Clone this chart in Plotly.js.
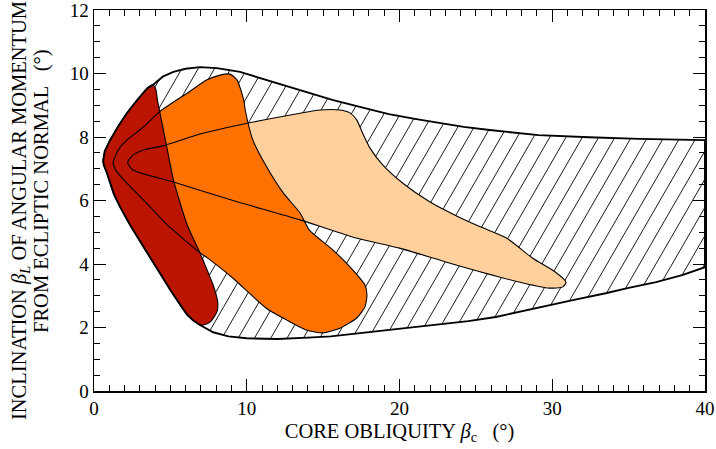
<!DOCTYPE html>
<html>
<head>
<meta charset="utf-8">
<script src="https://cdn.plot.ly/plotly-3.0.1.min.js"></script>
<style>html,body{margin:0;padding:0;background:#fff;}#chart{width:716px;height:449px;}</style>
</head>
<body>
<div id="chart"></div>
<script>
// Envelope (hatched) region
const envX = [3.86, 4.5, 5.2, 6.0, 6.94, 8.05, 9.56, 11.3, 13.5, 15.6, 17.4, 19.3, 21.0, 22.6, 24.2, 25.9, 27.5, 29.1, 32.4, 35.7, 40,
              40, 38.5, 36.8, 35.0, 33.5, 31.5, 30.0, 28.9, 27.5, 26.3, 24.5, 23.0, 20.4, 18.9, 17.4, 15.5, 14.0, 12.0, 10.0, 8.8, 7.8, 7.3, 6.94,
              6.5, 6.1, 5.1, 4.1, 3.2, 2.36, 1.7, 1.3, 0.85, 0.65, 0.6, 0.7, 1.05, 1.6, 2.15, 2.8, 3.5, 3.86];
const envY = [9.64, 9.9, 10.05, 10.15, 10.2, 10.17, 10.05, 9.8, 9.48, 9.17, 8.95, 8.72, 8.57, 8.44, 8.32, 8.22, 8.13, 8.06, 7.99, 7.94, 7.9,
              3.9, 3.65, 3.43, 3.25, 3.08, 2.88, 2.72, 2.6, 2.45, 2.33, 2.2, 2.12, 1.98, 1.88, 1.8, 1.72, 1.68, 1.64, 1.66, 1.72, 1.85, 1.98, 2.08,
              2.22, 2.4, 3.1, 3.87, 4.55, 5.23, 5.8, 6.2, 6.86, 7.1, 7.25, 7.55, 7.9, 8.35, 8.75, 9.15, 9.54, 9.64];

// Light orange region
const lightX = [2.2, 2.55, 3.3, 4.5, 7.0, 10.1, 13.5, 14.8, 16.1, 16.76, 17.2, 17.55, 18.07, 18.9, 20.2, 22.0, 24.0, 25.3,
                27.0, 28.7, 30.2, 30.9, 30.7, 29.8, 28.1, 23.7, 20.0, 17.15, 13.5, 9.1, 5.2, 2.55, 2.2];
const lightY = [7.2, 7.43, 7.6, 7.72, 8.1, 8.44, 8.75, 8.85, 8.85, 8.76, 8.54, 8.16, 7.65, 7.12, 6.55, 5.95, 5.45, 5.17,
                4.82, 4.19, 3.75, 3.43, 3.28, 3.24, 3.4, 3.97, 4.5, 4.82, 5.39, 6.0, 6.58, 6.96, 7.2];

// Orange region
const orangeX = [1.25, 1.6, 2.15, 3.2, 4.3, 6.1, 7.4, 8.25, 8.9, 9.36, 9.8, 9.9, 10.4, 11.3, 12.4, 13.5,
                 14.1, 15.65, 16.95, 17.74, 17.87, 17.74, 17.2, 16.1, 15.0, 13.9, 12.6, 11.3, 9.1, 7.4, 6.94, 4.8, 3.67, 2.15, 1.5, 1.25];
const orangeY = [7.18, 7.6, 7.9, 8.3, 8.8, 9.38, 9.8, 9.95, 9.98, 9.8, 9.17, 8.85, 7.9, 7.06, 6.23, 5.6,
                 5.07, 4.44, 3.81, 3.34, 3.02, 2.65, 2.3, 1.98, 1.83, 1.92, 2.24, 2.6, 3.55, 4.2, 4.35, 5.23, 5.8, 6.55, 6.9, 7.18];

// Dark red region
const redX = [3.86, 4.05, 4.15, 4.3, 4.5, 4.8, 5.2, 6.1, 6.94, 7.5, 7.8, 8.1, 8.05, 7.6, 7.15, 6.94,
              6.1, 4.1, 2.36, 1.3, 0.85, 0.6, 0.75, 1.05, 2.15, 3.5, 3.86];
const redY = [9.64, 9.5, 9.17, 8.8, 8.32, 7.6, 6.65, 5.23, 4.35, 3.7, 3.34, 2.8, 2.49, 2.17, 2.08, 2.08,
              2.4, 3.87, 5.23, 6.2, 6.86, 7.2, 7.6, 7.9, 8.75, 9.54, 9.64];

const xTitle = 'CORE OBLIQUITY <i>β</i><sub>c</sub>   (°)';
const yTitle1 = 'INCLINATION <i>β</i><sub><i>L</i></sub> OF ANGULAR MOMENTUM';
const yTitle2 = 'FROM ECLIPTIC NORMAL   (°)';

// Hatch lines clipped to the envelope polygon (computed in pixel space for a true 60° angle)
function hatch(xs, ys, spacingPx, angleDeg) {
  const sx = 611 / 40, sy = 381 / 12;
  const P = xs.map((x, i) => [x * sx, ys[i] * sy]);
  const a = angleDeg * Math.PI / 180;
  const d = [Math.cos(a), Math.sin(a)], n = [-Math.sin(a), Math.cos(a)];
  const cs = P.map(p => p[0] * n[0] + p[1] * n[1]);
  const cmin = Math.min(...cs), cmax = Math.max(...cs);
  const perp = spacingPx * Math.sin(a);
  const hx = [], hy = [];
  for (let c = Math.ceil(cmin / perp) * perp + 0.37; c <= cmax; c += perp) {
    const ts = [];
    for (let i = 0; i < P.length - 1; i++) {
      const cp = cs[i], cq = cs[i + 1];
      if ((cp - c) * (cq - c) < 0) {
        const t = (c - cp) / (cq - cp);
        const px = P[i][0] + t * (P[i + 1][0] - P[i][0]);
        const py = P[i][1] + t * (P[i + 1][1] - P[i][1]);
        ts.push(px * d[0] + py * d[1]);
      }
    }
    ts.sort((u, v) => u - v);
    for (let k = 0; k + 1 < ts.length; k += 2) {
      [ts[k], ts[k + 1]].forEach(s => {
        hx.push((c * n[0] + s * d[0]) / sx);
        hy.push((c * n[1] + s * d[1]) / sy);
      });
      hx.push(null); hy.push(null);
    }
  }
  return [hx, hy];
}
const [hatchX, hatchY] = hatch(envX, envY, 16.3, 60);

const SPL = {shape: 'spline', smoothing: 0.6};
const fillTrace = (x, y, color, spl) => ({
  x, y, type: 'scatter', mode: 'lines', fill: 'toself', fillcolor: color,
  line: Object.assign({width: 0, color: color}, spl ? SPL : {}), hoverinfo: 'skip', showlegend: false
});
const lineTrace = (x, y, w, spl) => ({
  x, y, type: 'scatter', mode: 'lines', line: Object.assign({width: w, color: 'black'}, spl ? SPL : {}),
  hoverinfo: 'skip', showlegend: false, connectgaps: false
});

const traces = [
  fillTrace(envX, envY, 'white', false),
  lineTrace(hatchX, hatchY, 0.9, false),
  fillTrace(lightX, lightY, '#FFD09B', true),
  fillTrace(orangeX, orangeY, '#FF7100', true),
  fillTrace(redX, redY, '#BB1400', true),
  lineTrace(lightX, lightY, 1.1, true),
  lineTrace(orangeX, orangeY, 1.1, true),
  lineTrace(redX, redY, 1.1, true),
  lineTrace(envX, envY, 1.9, false)
];

const fam = 'Liberation Serif, Times New Roman, serif';
const tickFont = {family: fam, size: 19, color: 'black'};
const titleFont = {family: fam, size: 20.5, color: 'black'};
const layout = {
  width: 716, height: 449,
  margin: {l: 94, r: 11, t: 10, b: 58},
  paper_bgcolor: 'white', plot_bgcolor: 'white',
  font: tickFont,
  showlegend: false,
  xaxis: {
    range: [0, 40], dtick: 10, tick0: 0, ticks: 'inside', ticklen: 12, tickwidth: 1, tickcolor: 'black',
    showline: true, linecolor: 'black', linewidth: 1.5, mirror: 'allticks', showgrid: false, zeroline: false,
    minor: {dtick: 1, ticks: 'inside', ticklen: 6, tickcolor: 'black', tickwidth: 1, showgrid: false},
    tickfont: tickFont, ticklabeloverflow: 'allow',
    title: {text: xTitle, font: titleFont, standoff: 5}
  },
  yaxis: {
    range: [0, 12], dtick: 2, tick0: 0, ticks: 'inside', ticklen: 12, tickwidth: 1, tickcolor: 'black',
    showline: true, linecolor: 'black', linewidth: 1.5, mirror: 'allticks', showgrid: false, zeroline: false,
    minor: {dtick: 0.5, ticks: 'inside', ticklen: 6, tickcolor: 'black', tickwidth: 1, showgrid: false},
    tickfont: tickFont, ticklabeloverflow: 'allow'
  },
  annotations: [
    {text: yTitle1, xref: 'paper', yref: 'paper', x: -0.1211, y: 0.4724, xanchor: 'center', yanchor: 'middle',
     textangle: -90, showarrow: false, font: titleFont},
    {text: yTitle2, xref: 'paper', yref: 'paper', x: -0.0851, y: 0.525, xanchor: 'center', yanchor: 'middle',
     textangle: -90, showarrow: false, font: titleFont}
  ]
};

Plotly.newPlot('chart', traces, layout, {displayModeBar: false, staticPlot: true});
</script>
</body>
</html>
